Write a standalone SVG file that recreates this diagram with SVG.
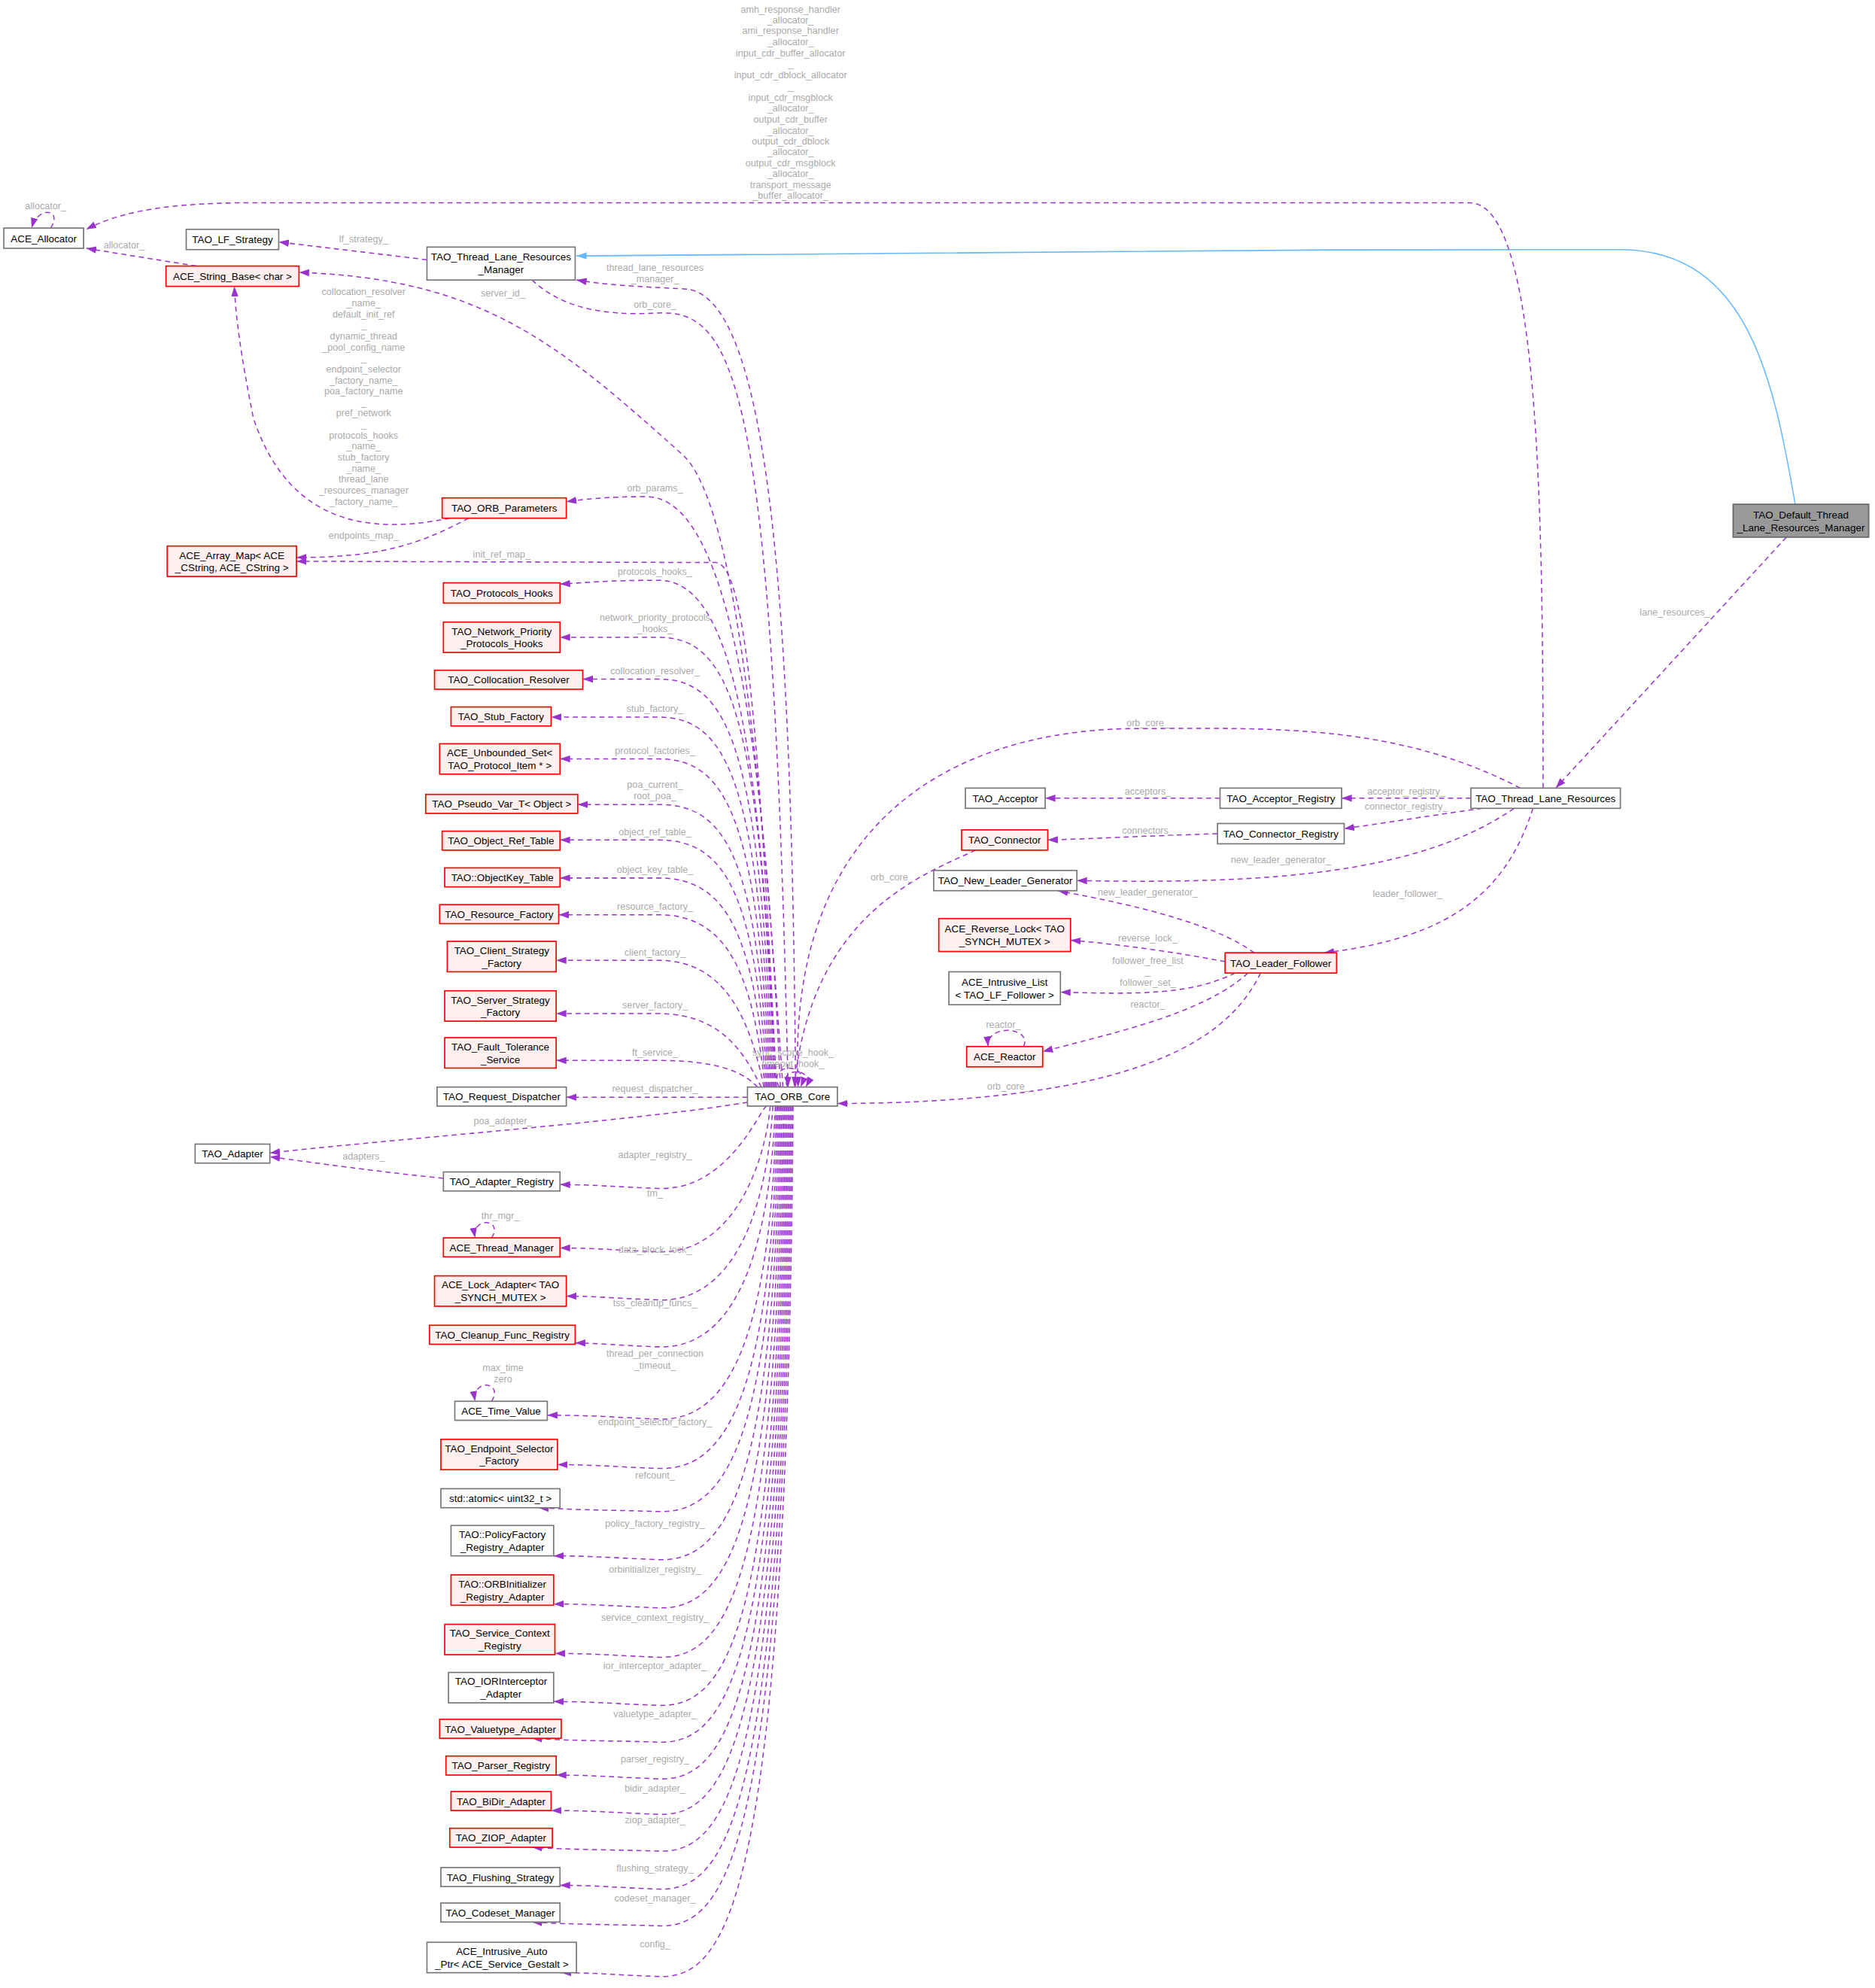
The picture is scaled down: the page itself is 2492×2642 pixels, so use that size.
<svg xmlns="http://www.w3.org/2000/svg" width="2492" height="2642" viewBox="0 0 2492 2642">
<defs>
<marker id="a" markerUnits="userSpaceOnUse" markerWidth="8" markerHeight="6" viewBox="0 0 10 7" refX="10" refY="3.5" orient="auto"><path d="M0,0 L10,3.5 L0,7 z" fill="#9a32cd"/></marker>
<marker id="b" markerUnits="userSpaceOnUse" markerWidth="8" markerHeight="6" viewBox="0 0 10 7" refX="10" refY="3.5" orient="auto"><path d="M0,0 L10,3.5 L0,7 z" fill="#63b8ff"/></marker>
</defs>
<style>
text{font-family:"Liberation Sans",Arial,sans-serif;font-size:8px;fill:#000}
.n rect{fill:#fff;stroke:#777;stroke-width:1}
.r rect{fill:#fff0f0;stroke:#f00;stroke-width:1}
.d rect{fill:#999;stroke:#666;stroke-width:1}
.nd text{text-anchor:middle}
#edges path{fill:none;stroke:#9a32cd;stroke-width:0.9;stroke-dasharray:4,3;marker-end:url(#a)}
#edges path.inh{stroke:#63b8ff;stroke-dasharray:none;marker-end:url(#b)}
.l text{fill:#aaa;text-anchor:middle;font-size:7.5px}
</style>
<rect width="2492" height="2642" fill="#fff"/>
<g transform="scale(1.6838)">
<g id="edges">
<path class="inh" d="M1417,398 C1400,300 1380,198 1280,197 C1000,197 700,198 455,202"/>
<path d="M1410,424 L1228,622"/>
<path d="M1218,622 C1218,400 1215,160 1160,160 L200,160 C120,160 90,170 68,181"/>
<path d="M40,180 C50,165 30,162 25,180"/>
<path d="M155,210 L68,196"/>
<path d="M337,205 L220,191"/>
<path d="M628,858 C625,500 610,230 540,228 C500,226 480,225 455,221"/>
<path d="M420,221 C440,240 470,250 520,247 C580,245 610,300 622,858"/>
<path d="M618,858 C600,600 580,400 540,360 C440,270 380,220 236,215"/>
<path d="M355,409 C300,420 230,420 200,330 C190,280 186,250 185,226"/>
<path d="M370,409 C330,430 300,440 234,440"/>
<path d="M616,858 C600,500 560,392 510,392 C480,392 460,394 447,396"/>
<path d="M613,858 C600,600 590,445 565,444 L234,443"/>
<path d="M612,858 C600,550 570,458 520,458 C480,458 460,460 442,461"/>
<path d="M611,858 C601,560 575,503 520,503 C490,503 470,503 442,503"/>
<path d="M610,858 C600,590 575,536 520,536 C490,536 470,536 460,536"/>
<path d="M609,858 C599,620 575,566 520,566 C490,566 470,566 435,566"/>
<path d="M608,858 C598,650 575,599 520,599 C490,599 470,599 442,599"/>
<path d="M607,858 C597,680 575,635 520,635 C490,635 470,635 456,635"/>
<path d="M606,858 C596,710 575,663 520,663 C490,663 470,663 442,663"/>
<path d="M605,858 C595,740 575,693 520,693 C490,693 470,693 442,693"/>
<path d="M604,858 C594,770 575,722 520,722 C490,722 470,722 441,722"/>
<path d="M603,858 C593,810 575,758 520,758 C490,758 470,758 439,758"/>
<path d="M601,858 C591,840 575,800 520,800 C490,800 470,800 439,800"/>
<path d="M598,858 C590,850 575,837 520,837 C490,837 470,837 439,837"/>
<path d="M590,866 L447,866"/>
<path d="M590,870 C500,885 300,900 213,910"/>
<path d="M350,930 C300,925 250,918 213,913"/>
<path d="M615,858 C605,838 640,838 632,858"/>
<path d="M622,858 C612,842 645,842 636,858"/>
<path d="M605,873 C600,875 575,940 520,938 C490,937 470,935 442,935"/>
<path d="M608,873 C603,925 575,990 520,988 C490,987 470,985 442,985"/>
<path d="M610,873 C605,963 575,1028 520,1026 C490,1025 470,1023 447,1023"/>
<path d="M612,873 C607,1000 575,1065 520,1063 C490,1062 470,1060 454,1060"/>
<path d="M613,873 C608,1057 575,1122 520,1120 C490,1119 470,1117 432,1117"/>
<path d="M614,873 C609,1096 575,1161 520,1159 C490,1158 470,1156 440,1156"/>
<path d="M615,873 C610,1130 575,1195 520,1193 C490,1192 460,1192 425,1190"/>
<path d="M616,873 C611,1168 575,1233 520,1231 C490,1230 470,1228 437,1228"/>
<path d="M617,873 C612,1206 575,1271 520,1269 C490,1268 470,1266 437,1266"/>
<path d="M618,873 C613,1245 575,1310 520,1308 C490,1307 470,1305 438,1305"/>
<path d="M619,873 C614,1283 575,1348 520,1346 C490,1345 470,1343 437,1343"/>
<path d="M620,873 C615,1312 575,1377 520,1375 C490,1374 450,1374 420,1372"/>
<path d="M621,873 C616,1341 575,1406 520,1404 C490,1403 470,1401 439,1401"/>
<path d="M622,873 C617,1369 575,1434 520,1432 C490,1431 470,1429 435,1429"/>
<path d="M623,873 C618,1398 575,1463 520,1461 C490,1460 450,1460 420,1458"/>
<path d="M624,873 C619,1428 575,1493 520,1491 C490,1490 470,1488 442,1488"/>
<path d="M625,873 C620,1457 575,1522 520,1520 C490,1519 450,1519 420,1517"/>
<path d="M626,873 C621,1497 575,1562 520,1560 C490,1559 470,1557 443,1557"/>
<path d="M388,977 C398,962 372,960 375,977"/>
<path d="M388,1106 C398,1090 372,1088 375,1106"/>
<path d="M808,826 C815,810 778,808 780,826"/>
<path d="M1200,622 C1100,570 1000,575 900,575 C750,575 620,650 630,858"/>
<path d="M1161,630 L1059,630"/>
<path d="M963,630 L825,630"/>
<path d="M1170,638 C1120,645 1090,650 1061,654"/>
<path d="M961,658 C900,660 860,662 827,663"/>
<path d="M770,671 C730,690 640,720 627,858"/>
<path d="M1195,638 C1120,690 1000,698 850,695"/>
<path d="M1210,638 C1190,700 1150,740 1045,752"/>
<path d="M990,752 C960,730 900,715 835,703"/>
<path d="M967,759 C930,752 890,746 845,742"/>
<path d="M975,768 C940,785 900,785 837,783"/>
<path d="M985,768 C950,800 880,815 823,830"/>
<path d="M995,768 C970,820 900,870 661,871"/>
</g>
<g class="l">
<text x="624" y="10">amh_response_handler</text><text x="624" y="18.5">_allocator_</text>
<text x="624" y="27">ami_response_handler</text><text x="624" y="35.5">_allocator_</text>
<text x="624" y="44.5">input_cdr_buffer_allocator</text><text x="624" y="53">_</text>
<text x="624" y="62">input_cdr_dblock_allocator</text><text x="624" y="70.5">_</text>
<text x="624" y="79.5">input_cdr_msgblock</text><text x="624" y="88">_allocator_</text>
<text x="624" y="97">output_cdr_buffer</text><text x="624" y="105.5">_allocator_</text>
<text x="624" y="114">output_cdr_dblock</text><text x="624" y="122.5">_allocator_</text>
<text x="624" y="131">output_cdr_msgblock</text><text x="624" y="139.5">_allocator_</text>
<text x="624" y="148.5">transport_message</text><text x="624" y="157">_buffer_allocator_</text>
<text x="36" y="165">allocator_</text>
<text x="98" y="196">allocator_</text>
<text x="287" y="191">lf_strategy_</text>
<text x="517" y="214">thread_lane_resources</text><text x="517" y="223">_manager_</text>
<text x="397" y="234">server_id_</text>
<text x="517" y="243">orb_core_</text>
<text x="287" y="233">collocation_resolver</text><text x="287" y="241.7">_name_</text>
<text x="287" y="250.4">default_init_ref</text><text x="287" y="259.1">_</text>
<text x="287" y="267.8">dynamic_thread</text><text x="287" y="276.5">_pool_config_name</text>
<text x="287" y="285.2">_</text><text x="287" y="293.9">endpoint_selector</text>
<text x="287" y="302.6">_factory_name_</text><text x="287" y="311.3">poa_factory_name</text>
<text x="287" y="320">_</text><text x="287" y="328.7">pref_network</text>
<text x="287" y="337.4">_</text><text x="287" y="346.1">protocols_hooks</text>
<text x="287" y="354.8">_name_</text><text x="287" y="363.5">stub_factory</text>
<text x="287" y="372.2">_name_</text><text x="287" y="380.9">thread_lane</text>
<text x="287" y="389.6">_resources_manager</text><text x="287" y="398.3">_factory_name_</text>
<text x="517" y="388">orb_params_</text>
<text x="287" y="425">endpoints_map_</text>
<text x="396" y="440">init_ref_map_</text>
<text x="517" y="454">protocols_hooks_</text>
<text x="517" y="490">network_priority_protocols</text><text x="517" y="499">_hooks_</text>
<text x="517" y="532">collocation_resolver_</text>
<text x="517" y="562">stub_factory_</text>
<text x="517" y="595">protocol_factories_</text>
<text x="517" y="622">poa_current_</text><text x="517" y="631">root_poa_</text>
<text x="517" y="659">object_ref_table_</text>
<text x="517" y="689">object_key_table_</text>
<text x="517" y="718">resource_factory_</text>
<text x="517" y="754">client_factory_</text>
<text x="517" y="796">server_factory_</text>
<text x="517" y="833">ft_service_</text>
<text x="626" y="833">sync_scope_hook_</text><text x="626" y="842">timeout_hook_</text>
<text x="517" y="862">request_dispatcher_</text>
<text x="397" y="887">poa_adapter_</text>
<text x="287" y="915">adapters_</text>
<text x="517" y="914">adapter_registry_</text>
<text x="517" y="944">tm_</text>
<text x="395" y="962">thr_mgr_</text>
<text x="517" y="989">data_block_lock_</text>
<text x="517" y="1031">tss_cleanup_funcs_</text>
<text x="517" y="1071">thread_per_connection</text><text x="517" y="1080">_timeout_</text>
<text x="397" y="1082">max_time</text><text x="397" y="1091">zero</text>
<text x="517" y="1125">endpoint_selector_factory_</text>
<text x="517" y="1167">refcount_</text>
<text x="517" y="1205">policy_factory_registry_</text>
<text x="517" y="1241">orbinitializer_registry_</text>
<text x="517" y="1279">service_context_registry_</text>
<text x="517" y="1317">ior_interceptor_adapter_</text>
<text x="517" y="1355">valuetype_adapter_</text>
<text x="517" y="1391">parser_registry_</text>
<text x="517" y="1414">bidir_adapter_</text>
<text x="517" y="1439">ziop_adapter_</text>
<text x="517" y="1477">flushing_strategy_</text>
<text x="517" y="1501">codeset_manager_</text>
<text x="517" y="1537">config_</text>
<text x="1322" y="486">lane_resources_</text>
<text x="906" y="573">orb_core_</text>
<text x="906" y="627">acceptors_</text>
<text x="1110" y="627">acceptor_registry_</text>
<text x="1110" y="639">connector_registry_</text>
<text x="906" y="658">connectors_</text>
<text x="1011" y="681">new_leader_generator_</text>
<text x="704" y="695">orb_core_</text>
<text x="906" y="707">new_leader_generator_</text>
<text x="1111" y="708">leader_follower_</text>
<text x="906" y="743">reverse_lock_</text>
<text x="906" y="761">follower_free_list</text><text x="906" y="769">_</text><text x="906" y="778">follower_set_</text>
<text x="906" y="795">reactor_</text>
<text x="792" y="811">reactor_</text>
<text x="796" y="860">orb_core_</text>
</g>
<g class="nd">
<g id="n1" class="n"><rect x="3" y="180" width="63" height="16"/><text x="34.5" y="191">ACE_Allocator</text></g>
<g id="n2" class="n"><rect x="147" y="181" width="73" height="16"/><text x="183.5" y="192">TAO_LF_Strategy</text></g>
<g id="n3" class="n"><rect x="337" y="195" width="117" height="26"/><text x="395.5" y="205.5">TAO_Thread_Lane_Resources</text><text x="395.5" y="215.5">_Manager</text></g>
<g id="n4" class="r"><rect x="131" y="210" width="105" height="16"/><text x="183.5" y="221">ACE_String_Base&lt; char &gt;</text></g>
<g id="n5" class="r"><rect x="349" y="393" width="98" height="16"/><text x="398" y="404">TAO_ORB_Parameters</text></g>
<g id="n6" class="r"><rect x="132" y="431" width="102" height="24"/><text x="183" y="441">ACE_Array_Map&lt; ACE</text><text x="183" y="451">_CString, ACE_CString &gt;</text></g>
<g id="n7" class="r"><rect x="350" y="460" width="92" height="16"/><text x="396" y="471">TAO_Protocols_Hooks</text></g>
<g id="n8" class="r"><rect x="350" y="491" width="92" height="24"/><text x="396" y="501">TAO_Network_Priority</text><text x="396" y="511">_Protocols_Hooks</text></g>
<g id="n9" class="r"><rect x="343" y="529" width="117" height="15"/><text x="401.5" y="539.5">TAO_Collocation_Resolver</text></g>
<g id="n10" class="r"><rect x="356" y="558" width="79" height="15"/><text x="395.5" y="568.5">TAO_Stub_Factory</text></g>
<g id="n11" class="r"><rect x="347" y="587" width="95" height="24"/><text x="394.5" y="597">ACE_Unbounded_Set&lt;</text><text x="394.5" y="607">TAO_Protocol_Item * &gt;</text></g>
<g id="n12" class="r"><rect x="336" y="627" width="120" height="15"/><text x="396" y="637.5">TAO_Pseudo_Var_T&lt; Object &gt;</text></g>
<g id="n13" class="r"><rect x="349" y="656" width="93" height="15"/><text x="395.5" y="666.5">TAO_Object_Ref_Table</text></g>
<g id="n14" class="r"><rect x="351" y="685" width="91" height="15"/><text x="396.5" y="695.5">TAO::ObjectKey_Table</text></g>
<g id="n15" class="r"><rect x="347" y="714" width="94" height="15"/><text x="394" y="724.5">TAO_Resource_Factory</text></g>
<g id="n16" class="r"><rect x="353" y="743" width="86" height="24"/><text x="396" y="753">TAO_Client_Strategy</text><text x="396" y="763">_Factory</text></g>
<g id="n17" class="r"><rect x="351" y="782" width="88" height="24"/><text x="395" y="792">TAO_Server_Strategy</text><text x="395" y="802">_Factory</text></g>
<g id="n18" class="r"><rect x="351" y="819" width="88" height="24"/><text x="395" y="829">TAO_Fault_Tolerance</text><text x="395" y="839">_Service</text></g>
<g id="n19" class="n"><rect x="345" y="858" width="102" height="15"/><text x="396" y="868.5">TAO_Request_Dispatcher</text></g>
<g id="n20" class="n"><rect x="590" y="858" width="71" height="15"/><text x="625.5" y="868.5">TAO_ORB_Core</text></g>
<g id="n21" class="n"><rect x="154" y="903" width="59" height="15"/><text x="183.5" y="913.5">TAO_Adapter</text></g>
<g id="n22" class="n"><rect x="350" y="925" width="92" height="15"/><text x="396" y="935.5">TAO_Adapter_Registry</text></g>
<g id="n23" class="r"><rect x="350" y="977" width="92" height="15"/><text x="396" y="987.5">ACE_Thread_Manager</text></g>
<g id="n24" class="r"><rect x="343" y="1007" width="104" height="24"/><text x="395" y="1017">ACE_Lock_Adapter&lt; TAO</text><text x="395" y="1027">_SYNCH_MUTEX &gt;</text></g>
<g id="n25" class="r"><rect x="339" y="1046" width="115" height="15"/><text x="396.5" y="1056.5">TAO_Cleanup_Func_Registry</text></g>
<g id="n26" class="n"><rect x="359" y="1106" width="73" height="15"/><text x="395.5" y="1116.5">ACE_Time_Value</text></g>
<g id="n27" class="r"><rect x="348" y="1136" width="92" height="24"/><text x="394" y="1146">TAO_Endpoint_Selector</text><text x="394" y="1156">_Factory</text></g>
<g id="n28" class="n"><rect x="348" y="1175" width="94" height="15"/><text x="395" y="1185.5">std::atomic&lt; uint32_t &gt;</text></g>
<g id="n29" class="n"><rect x="356" y="1204" width="81" height="24"/><text x="396.5" y="1214">TAO::PolicyFactory</text><text x="396.5" y="1224">_Registry_Adapter</text></g>
<g id="n30" class="r"><rect x="356" y="1243" width="81" height="24"/><text x="396.5" y="1253">TAO::ORBInitializer</text><text x="396.5" y="1263">_Registry_Adapter</text></g>
<g id="n31" class="r"><rect x="351" y="1282" width="87" height="24"/><text x="394.5" y="1292">TAO_Service_Context</text><text x="394.5" y="1302">_Registry</text></g>
<g id="n32" class="n"><rect x="354" y="1320" width="83" height="24"/><text x="395.5" y="1330">TAO_IORInterceptor</text><text x="395.5" y="1340">_Adapter</text></g>
<g id="n33" class="r"><rect x="347" y="1357" width="96" height="15"/><text x="395" y="1367.5">TAO_Valuetype_Adapter</text></g>
<g id="n34" class="r"><rect x="352" y="1386" width="87" height="15"/><text x="395.5" y="1396.5">TAO_Parser_Registry</text></g>
<g id="n35" class="r"><rect x="356" y="1414" width="79" height="15"/><text x="395.5" y="1424.5">TAO_BiDir_Adapter</text></g>
<g id="n36" class="r"><rect x="355" y="1443" width="81" height="15"/><text x="395.5" y="1453.5">TAO_ZIOP_Adapter</text></g>
<g id="n37" class="n"><rect x="348" y="1474" width="94" height="15"/><text x="395" y="1484.5">TAO_Flushing_Strategy</text></g>
<g id="n38" class="n"><rect x="348" y="1502" width="94" height="15"/><text x="395" y="1512.5">TAO_Codeset_Manager</text></g>
<g id="n39" class="n"><rect x="337" y="1533" width="118" height="24"/><text x="396" y="1543">ACE_Intrusive_Auto</text><text x="396" y="1553">_Ptr&lt; ACE_Service_Gestalt &gt;</text></g>
<g id="n40" class="n"><rect x="762" y="622" width="63" height="16"/><text x="793.5" y="633">TAO_Acceptor</text></g>
<g id="n41" class="n"><rect x="963" y="622" width="96" height="16"/><text x="1011" y="633">TAO_Acceptor_Registry</text></g>
<g id="n42" class="n"><rect x="1161" y="622" width="118" height="16"/><text x="1220" y="633">TAO_Thread_Lane_Resources</text></g>
<g id="n43" class="r"><rect x="759" y="655" width="68" height="16"/><text x="793" y="666">TAO_Connector</text></g>
<g id="n44" class="n"><rect x="961" y="650" width="100" height="16"/><text x="1011" y="661">TAO_Connector_Registry</text></g>
<g id="n45" class="n"><rect x="737" y="687" width="113" height="16"/><text x="793.5" y="698">TAO_New_Leader_Generator</text></g>
<g id="n46" class="r"><rect x="741" y="725" width="104" height="26"/><text x="793" y="736">ACE_Reverse_Lock&lt; TAO</text><text x="793" y="746">_SYNCH_MUTEX &gt;</text></g>
<g id="n47" class="r"><rect x="967" y="752" width="88" height="16"/><text x="1011" y="763">TAO_Leader_Follower</text></g>
<g id="n48" class="n"><rect x="749" y="767" width="88" height="26"/><text x="793" y="778">ACE_Intrusive_List</text><text x="793" y="788">&lt; TAO_LF_Follower &gt;</text></g>
<g id="n49" class="r"><rect x="763" y="826" width="60" height="16"/><text x="793" y="837">ACE_Reactor</text></g>
<g id="n50" class="d"><rect x="1368" y="398" width="107" height="26"/><text x="1421.5" y="409">TAO_Default_Thread</text><text x="1421.5" y="419">_Lane_Resources_Manager</text></g>
</g>
</g>
</svg>
